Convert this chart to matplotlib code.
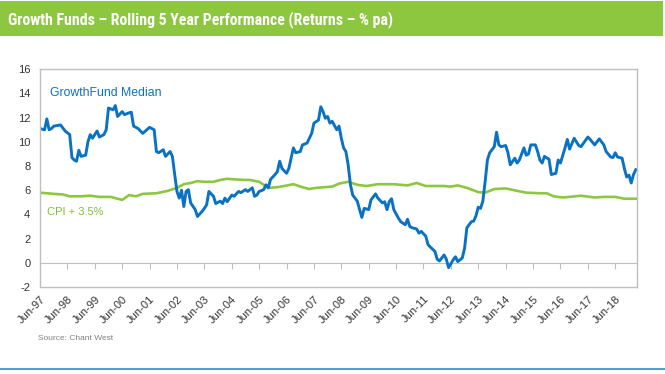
import matplotlib
matplotlib.use("Agg")
import matplotlib.pyplot as plt
from matplotlib.patches import Rectangle
from matplotlib.lines import Line2D
from matplotlib import font_manager as fm

plt.rcParams['font.family'] = ['Liberation Sans', 'DejaVu Sans']

title = "Growth Funds – Rolling 5 Year Performance (Returns – % pa)"
source_text = "Source: Chant West"
growth_label = "GrowthFund Median"
cpi_label = "CPI + 3.5%"

tick_labels = ["Jun-97", "Jun-98", "Jun-99", "Jun-00", "Jun-01", "Jun-02", "Jun-03",
               "Jun-04", "Jun-05", "Jun-06", "Jun-07", "Jun-08", "Jun-09", "Jun-10",
               "Jun-11", "Jun-12", "Jun-13", "Jun-14", "Jun-15", "Jun-16", "Jun-17",
               "Jun-18"]
months_per_label = 12
last_month = 261.4   # months since Jun-97 at right edge of the plot

y_ticks = [-2, 0, 2, 4, 6, 8, 10, 12, 14, 16]

# months since Jun-97
growth_month = [0, 2, 3, 4, 5, 6, 9, 11, 13, 14,
                15, 16, 17, 18, 20, 21, 22, 23, 25, 26,
                28, 29, 30, 32, 33, 34, 36, 37, 39, 40,
                41, 43, 45, 48, 50, 51, 52, 54, 55, 57,
                58, 59, 60, 61, 62, 63, 64, 65, 66, 68,
                69, 71, 72, 73, 74, 76, 77, 79, 80, 81,
                82, 84, 85, 87, 88, 90, 91, 93, 94, 95,
                96, 98, 99, 100, 101, 103, 104, 105, 106, 108,
                109, 111, 112, 114, 115, 117, 119, 120, 122, 123,
                124, 125, 126, 127, 128, 130, 131, 132, 133, 134,
                135, 136, 137, 139, 140, 141, 142, 144, 145, 147,
                148, 150, 151, 152, 153, 154, 155, 157, 158, 160,
                161, 162, 163, 165, 166, 167, 169, 170, 171, 173,
                174, 175, 176, 177, 178, 179, 181, 182, 183, 185,
                186, 187, 189, 190, 191, 192, 193, 194, 195, 196,
                197, 198, 199, 200, 201, 202, 204, 205, 206, 208,
                209, 210, 212, 213, 214, 215, 217, 218, 219, 220,
                221, 223, 224, 226, 227, 228, 230, 231, 232, 233,
                234, 236, 237, 240, 241, 243, 245, 247, 248, 250,
                251, 252, 253, 255, 256, 257, 258, 259, 260, 261]
growth_value = [11.1, 11.0, 11.9, 11.0, 11.1, 11.3, 11.4, 10.9, 10.6, 8.7,
                8.5, 8.4, 9.3, 8.8, 8.9, 10.0, 10.6, 10.3, 10.9, 10.4,
                10.6, 11.0, 12.8, 12.65, 13.0, 12.1, 12.5, 12.25, 12.4, 12.45,
                11.3, 11.1, 10.7, 11.2, 11.0, 9.2, 9.1, 9.35, 8.8, 9.2,
                8.8, 7.3, 5.9, 5.35, 6.0, 4.65, 5.9, 6.05, 4.95, 4.4,
                3.83, 4.25, 4.5, 4.8, 5.9, 5.5, 4.9, 5.1, 4.9, 5.35,
                5.05, 5.6, 5.5, 5.9, 5.8, 6.05, 5.9, 6.2, 5.5, 5.6,
                5.9, 6.05, 6.45, 6.2, 6.9, 7.3, 7.55, 8.4, 7.8, 7.4,
                7.8, 9.5, 9.1, 9.2, 9.75, 9.9, 10.7, 11.55, 11.8, 12.9,
                12.5, 11.95, 12.1, 11.55, 11.7, 11.0, 11.3, 10.3, 9.5, 9.2,
                8.1, 6.45, 5.6, 5.1, 4.4, 3.75, 4.5, 4.4, 5.2, 5.7,
                5.35, 4.95, 5.05, 4.4, 5.05, 5.3, 4.4, 3.7, 3.4, 3.15,
                3.6, 3.0, 2.9, 2.8, 2.45, 2.6, 2.2, 1.5, 1.3, 0.95,
                0.3, 0.15, 0.4, 0.65, 0.3, -0.4, 0.25, 0.5, 0.1, 0.4,
                1.2, 2.9, 3.4, 3.45, 3.9, 4.6, 4.5, 5.1, 6.7, 8.5,
                9.1, 9.35, 9.6, 10.8, 9.75, 9.6, 9.7, 9.1, 8.1, 8.65,
                8.25, 8.5, 9.5, 8.9, 9.0, 9.75, 9.75, 9.2, 8.5, 8.25,
                8.8, 8.55, 7.3, 7.4, 8.5, 8.25, 9.5, 10.2, 9.4, 9.85,
                10.3, 9.7, 9.6, 10.4, 10.2, 9.75, 10.25, 9.75, 9.2, 8.75,
                8.7, 9.1, 8.75, 8.65, 7.8, 7.1, 7.25, 6.6, 7.3, 7.7]

cpi_month = [0, 6, 10, 13, 18, 22, 26, 31, 36, 39,
             42, 45, 51, 56, 60, 63, 66, 69, 72, 76,
             79, 82, 85, 90, 92, 96, 100, 104, 107, 111,
             115, 118, 121, 128, 131, 135, 139, 143, 148, 155,
             161, 165, 169, 177, 180, 183, 187, 192, 195, 199,
             204, 209, 213, 219, 222, 225, 229, 232, 237, 243,
             247, 252, 256, 261]
cpi_value = [5.8, 5.7, 5.65, 5.5, 5.5, 5.55, 5.45, 5.45, 5.2, 5.6,
             5.5, 5.7, 5.75, 5.95, 6.2, 6.5, 6.6, 6.75, 6.7, 6.7,
             6.85, 6.95, 6.9, 6.85, 6.85, 6.7, 6.2, 6.25, 6.35, 6.5,
             6.25, 6.1, 6.2, 6.3, 6.55, 6.7, 6.45, 6.35, 6.5, 6.5,
             6.4, 6.6, 6.35, 6.35, 6.3, 6.4, 6.2, 5.85, 5.8, 6.1,
             6.15, 5.95, 5.8, 5.75, 5.75, 5.5, 5.4, 5.45, 5.55, 5.4,
             5.45, 5.45, 5.3, 5.3]


def narrow_bold_font():
    """Pick a condensed bold face if one is installed."""
    best = None
    for f in fm.fontManager.ttflist:
        narrow = ('Narrow' in f.name or 'Condensed' in f.name or
                  str(f.stretch) in ('condensed', 'semi-condensed', 'extra-condensed'))
        w = f.weight if isinstance(f.weight, int) else 400
        if narrow and w >= 600 and 'Mono' not in f.name and 'Serif' not in f.name:
            score = 0
            if 'Liberation' in f.name:
                score = 3
            elif 'Arial' in f.name or 'Roboto' in f.name:
                score = 2
            elif 'Sans' in f.name:
                score = 1
            if best is None or score > best[0]:
                best = (score, f.fname)
    if best:
        return fm.FontProperties(fname=best[1])
    return fm.FontProperties(family=['Liberation Sans', 'DejaVu Sans'], weight='bold')


W, H = 665, 374
fig = plt.figure(figsize=(W / 100, H / 100), dpi=100)

# header bar
fig.patches.append(Rectangle((0, 1 - 36 / H), 663 / W, 35 / H, transform=fig.transFigure,
                             facecolor='#8DC63F', edgecolor='none'))
tprop = narrow_bold_font()
tsize = 11.0
tprop.set_size(tsize)
ttl = fig.text(8 / W, 1 - 20 / H, title, color='white', fontproperties=tprop,
               va='center', ha='left')
fig.canvas.draw()
tw = ttl.get_window_extent().width
target = 384.0
tsize = min(12.5, max(9.0, tsize * target / tw))
tprop.set_size(tsize)
ttl.set_fontproperties(tprop)

# bottom rule
fig.add_artist(Line2D([0, 1], [1 - 369 / H, 1 - 369 / H], transform=fig.transFigure,
                      color='#1E90D8', lw=1.2))

ax = fig.add_axes([40 / W, 1 - 287 / H, (636.7 - 40) / W, (287 - 69.3) / H])
border = '#BFBFBF'
for s in ax.spines.values():
    s.set_color(border)
    s.set_linewidth(1.0)

ax.plot(cpi_month, cpi_value, color='#8DC63F', lw=1.9, solid_joinstyle='round')
ax.plot(growth_month, growth_value, color='#0A72C2', lw=2.1, solid_joinstyle='round')

ax.set_ylim(-2, 16)
ax.set_xlim(0, last_month)
ax.set_yticks(y_ticks)
ax.set_yticklabels([str(v) for v in y_ticks])
ax.tick_params(axis='y', length=0, pad=7, labelsize=8, labelcolor='#333333')

xt = [i * months_per_label for i in range(len(tick_labels))]
ax.set_xticks(xt)
ax.set_xticklabels(tick_labels, rotation=45, ha='right', va='top', rotation_mode='anchor')
ax.tick_params(axis='x', length=0, pad=5, labelsize=8, labelcolor='#333333')

# category axis line crossing at zero
sec = ax.secondary_xaxis((0 - (-2)) / 18)
sec.set_xticks(xt)
sec.set_xticklabels([])
sec.tick_params(axis='x', direction='out', length=4, color=border)
sec.spines['bottom'].set_color(border)

ax.text(4.3, 14, growth_label, color='#0A72C2', fontsize=8.8, va='center', ha='left')
ax.text(3, 4.2, cpi_label, color='#7DBE36', fontsize=8, va='center', ha='left')

fig.text(38 / W, 1 - 338 / H, source_text, color='#808080', fontsize=6,
         family=['Liberation Sans Narrow', 'Liberation Sans', 'DejaVu Sans'],
         va='center', ha='left')

fig.savefig('out.png', dpi=100)
